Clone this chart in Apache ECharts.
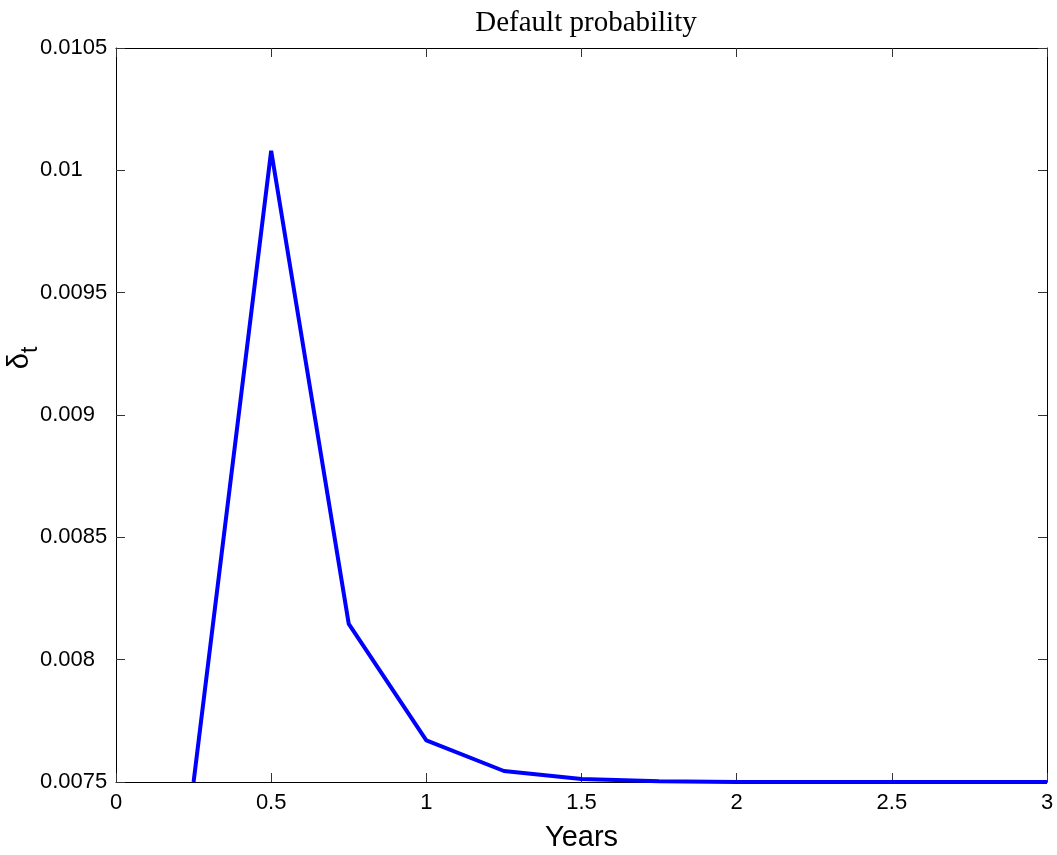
<!DOCTYPE html>
<html>
<head>
<meta charset="utf-8">
<script src="https://cdn.jsdelivr.net/npm/echarts@6/dist/echarts.min.js"></script>
<style>
html,body{margin:0;padding:0;background:#fff;}
#c{width:1057px;height:855px;}
</style>
</head>
<body>
<div id="c"></div>
<script>
const years = [0.25, 0.5, 0.75, 1.0, 1.25, 1.5, 1.75, 2.0, 2.25, 2.5, 2.75, 3.0];
const delta = [0.0075, 0.01008, 0.008146, 0.00767, 0.007545, 0.007512, 0.007503, 0.0075, 0.0075, 0.0075, 0.0075, 0.0075];
const xTicks = [0, 0.5, 1, 1.5, 2, 2.5, 3];
const yTicks = [0.0075, 0.008, 0.0085, 0.009, 0.0095, 0.01, 0.0105];

const chart = echarts.init(document.getElementById('c'), null, {renderer: 'canvas'});
const fmt = v => String(parseFloat(v.toFixed(5)));
const tickStyle = {show: true, inside: true, length: 9, lineStyle: {color: '#333', width: 1}};
const lineStyle = {show: true, onZero: false, lineStyle: {color: '#000', width: 1}};
chart.setOption({
  animation: false,
  backgroundColor: '#fff',
  title: {
    text: 'Default probability',
    left: 581, top: 4, textAlign: 'center',
    textStyle: {fontFamily: 'Liberation Serif', fontSize: 29, fontWeight: 'normal', color: '#000'}
  },
  grid: {left: 116, right: 10, top: 48, bottom: 73, containLabel: false, outerBoundsMode: 'none'},
  xAxis: [{
    type: 'value', position: 'bottom', min: xTicks[0], max: xTicks[xTicks.length - 1], interval: 0.5,
    axisLine: lineStyle, axisTick: tickStyle, splitLine: {show: false},
    axisLabel: {formatter: fmt, fontFamily: 'Liberation Sans', fontSize: 22, color: '#000', margin: 10},
    name: 'Years', nameLocation: 'middle', nameGap: 41, nameMoveOverlap: false,
    nameTextStyle: {fontFamily: 'Liberation Sans', fontSize: 29, color: '#000'}
  }, {
    type: 'value', position: 'top', min: xTicks[0], max: xTicks[xTicks.length - 1], interval: 0.5,
    axisLine: lineStyle, axisTick: tickStyle, splitLine: {show: false}, axisLabel: {show: false}
  }],
  yAxis: [{
    type: 'value', position: 'left', min: yTicks[0], max: yTicks[yTicks.length - 1], interval: 0.0005,
    axisLine: lineStyle, axisTick: tickStyle, splitLine: {show: false},
    axisLabel: {formatter: fmt, fontFamily: 'Liberation Sans', fontSize: 22, color: '#000', margin: 76, align: 'left'},
    name: '{d|δ}{t|t}', nameLocation: 'middle', nameGap: 82, nameRotate: 90, nameMoveOverlap: false,
    nameTextStyle: {
      padding: [0, 0, 0, 114],
      rich: {
        d: {fontFamily: 'Liberation Sans', fontSize: 29, color: '#000', verticalAlign: 'bottom', lineHeight: 34},
        t: {fontFamily: 'Liberation Sans', fontSize: 23, color: '#000', verticalAlign: 'bottom', lineHeight: 34, padding: [0, 0, -8, 0]}
      }
    }
  }, {
    type: 'value', position: 'right', min: yTicks[0], max: yTicks[yTicks.length - 1], interval: 0.0005,
    axisLine: lineStyle, axisTick: tickStyle, splitLine: {show: false}, axisLabel: {show: false}
  }],
  series: [{
    type: 'line',
    data: years.map((x, i) => [x, delta[i]]),
    showSymbol: false,
    clip: true,
    lineStyle: {color: '#0000ff', width: 4},
    itemStyle: {color: '#0000ff'}
  }]
});
</script>
</body>
</html>
